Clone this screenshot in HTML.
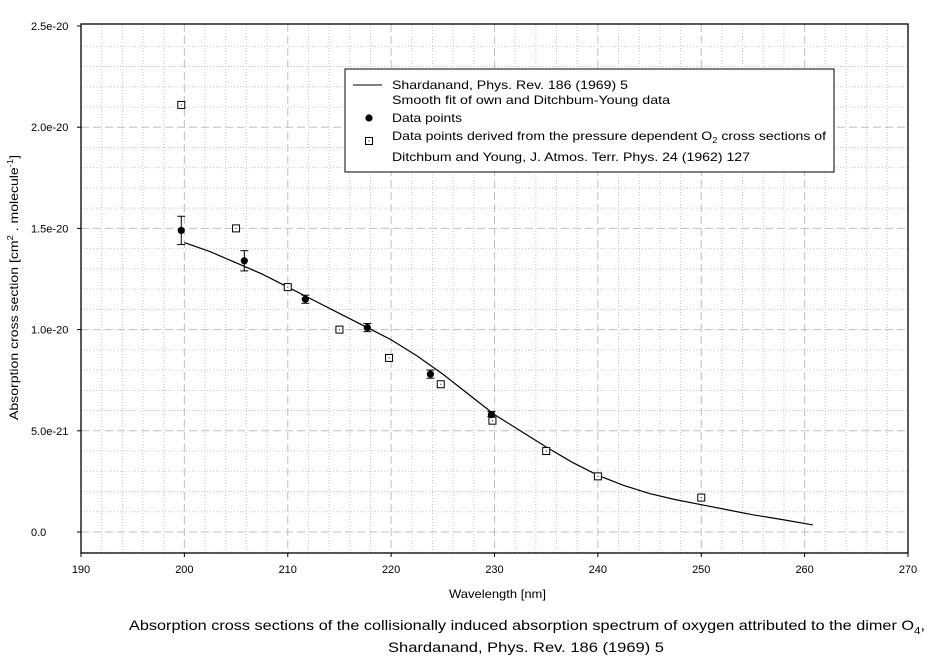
<!DOCTYPE html>
<html><head><meta charset="utf-8"><style>
html,body{margin:0;padding:0;background:#fff;}
svg{display:block;font-family:"Liberation Sans",Arial,sans-serif;}
</style></head><body>
<svg id="s" width="938" height="660" xmlns="http://www.w3.org/2000/svg"></svg>
<script>
const s=document.getElementById('s');
const X=n=>81+(n-190)*10.3375, Y=v=>532-v*20.24;
let h='';
for(let n=192;n<270;n+=2){if(n%10)h+=`<line x1="${X(n)}" y1="24" x2="${X(n)}" y2="553" stroke="#c8c8c8" stroke-dasharray="1,2"/>`;}
for(let v=-1;v<25;v++){if(v%5&&Y(v)<553)h+=`<line x1="81" y1="${Y(v)}" x2="908" y2="${Y(v)}" stroke="#c8c8c8" stroke-dasharray="1,2"/>`;}
for(let n=200;n<270;n+=10)h+=`<line x1="${X(n)}" y1="24" x2="${X(n)}" y2="553" stroke="#c0c0c0" stroke-dasharray="8,4"/>`;
for(let v=0;v<25;v+=5)h+=`<line x1="81" y1="${Y(v)}" x2="908" y2="${Y(v)}" stroke="#c0c0c0" stroke-dasharray="8,4"/>`;
h+=`<rect x="81" y="24" width="827" height="529" fill="none" stroke="#000" stroke-width="1.3"/>`;
const yl=['0.0','5.0e-21','1.0e-20','1.5e-20','2.0e-20','2.5e-20'];
for(let i=0;i<6;i++){const y=Y(i*5);h+=`<line x1="77" y1="${y}" x2="81" y2="${y}" stroke="#000"/><text x="31" y="${y+4}" font-size="11">${yl[i]}</text>`;}
for(let n=190;n<=270;n+=10){h+=`<line x1="${X(n)}" y1="553" x2="${X(n)}" y2="557" stroke="#000"/><text x="${X(n)}" y="573" font-size="11" text-anchor="middle">${n}</text>`;}
h+=`<text x="449" y="598" font-size="12" textLength="97" lengthAdjust="spacingAndGlyphs">Wavelength [nm]</text>`;
h+=`<text transform="translate(18,420) rotate(-90)" font-size="12" textLength="265" lengthAdjust="spacingAndGlyphs">Absorption cross section [cm<tspan dy="-5" font-size="8">2</tspan><tspan dy="5"> . molecule</tspan><tspan dy="-5" font-size="8">-1</tspan><tspan dy="5">]</tspan></text>`;
const c=[[200,14.3],[202.5,13.85],[205,13.3],[207.5,12.75],[210,12.1],[212.5,11.45],[215,10.8],[217.5,10.15],[220,9.5],[222.5,8.7],[225,7.8],[227.5,6.8],[230,5.8],[232.5,5.0],[235,4.2],[237.5,3.45],[240,2.8],[242.5,2.3],[245,1.9],[247.5,1.6],[250,1.35],[252.5,1.1],[255,0.85],[258,0.6],[260.8,0.35]];
h+=`<polyline fill="none" stroke="#000" stroke-width="1.2" points="${c.map(p=>X(p[0])+','+Y(p[1])).join(' ')}"/>`;
const q=[[199.7,21.1],[205,15.0],[210,12.1],[215,10.0],[219.8,8.6],[224.8,7.3],[229.8,5.5],[235,4.0],[240,2.75],[250,1.7]];
q.forEach(p=>{const x=X(p[0]),y=Y(p[1]);h+=`<rect x="${x-3.5}" y="${y-3.5}" width="7" height="7" fill="#fff" stroke="#000"/><rect x="${x-0.5}" y="${y-0.5}" width="1" height="1" fill="#000"/>`;});
const f=[[199.7,14.9,14.2,15.6],[205.8,13.4,12.9,13.9],[211.7,11.5,11.3,11.7],[217.7,10.1,9.9,10.3],[223.8,7.8,7.6,8.0],[229.7,5.8,5.7,5.95]];
f.forEach(p=>{const x=X(p[0]);h+=`<line x1="${x}" y1="${Y(p[2])}" x2="${x}" y2="${Y(p[3])}" stroke="#000"/><line x1="${x-4}" y1="${Y(p[2])}" x2="${x+4}" y2="${Y(p[2])}" stroke="#000"/><line x1="${x-4}" y1="${Y(p[3])}" x2="${x+4}" y2="${Y(p[3])}" stroke="#000"/><circle cx="${x}" cy="${Y(p[1])}" r="3.6" fill="#000"/>`;});
h+=`<rect x="345" y="69" width="489" height="103" fill="#fff" stroke="#000"/>`;
h+=`<line x1="353" y1="85" x2="382" y2="85" stroke="#000"/>`;
const L=(y,w,t)=>`<text x="392" y="${y}" font-size="12" textLength="${w}" lengthAdjust="spacingAndGlyphs">${t}</text>`;
h+=L(89,236,'Shardanand, Phys. Rev. 186 (1969) 5');
h+=L(104,278,'Smooth fit of own  and Ditchbum-Young data');
h+=L(122,70,'Data points');
h+=`<text x="392" y="140" font-size="12" textLength="434" lengthAdjust="spacingAndGlyphs">Data points derived from the pressure dependent O<tspan dy="3" font-size="8">2</tspan><tspan dy="-3"> cross sections of</tspan></text>`;
h+=L(161,358,'Ditchbum and Young, J. Atmos. Terr. Phys. 24 (1962) 127');
h+=`<circle cx="369" cy="118" r="3.6" fill="#000"/><rect x="365.5" y="137.5" width="7" height="7" fill="#fff" stroke="#000"/><rect x="368.5" y="140.5" width="1" height="1" fill="#000"/>`;
h+=`<text x="129" y="630" font-size="14" textLength="796" lengthAdjust="spacingAndGlyphs">Absorption cross sections of the collisionally induced absorption spectrum of oxygen attributed to the dimer O<tspan dy="4" font-size="10">4</tspan><tspan dy="-4">,</tspan></text>`;
h+=`<text x="388" y="652" font-size="14" textLength="276" lengthAdjust="spacingAndGlyphs">Shardanand, Phys. Rev. 186 (1969) 5</text>`;
s.innerHTML=h;
</script>
</body></html>
